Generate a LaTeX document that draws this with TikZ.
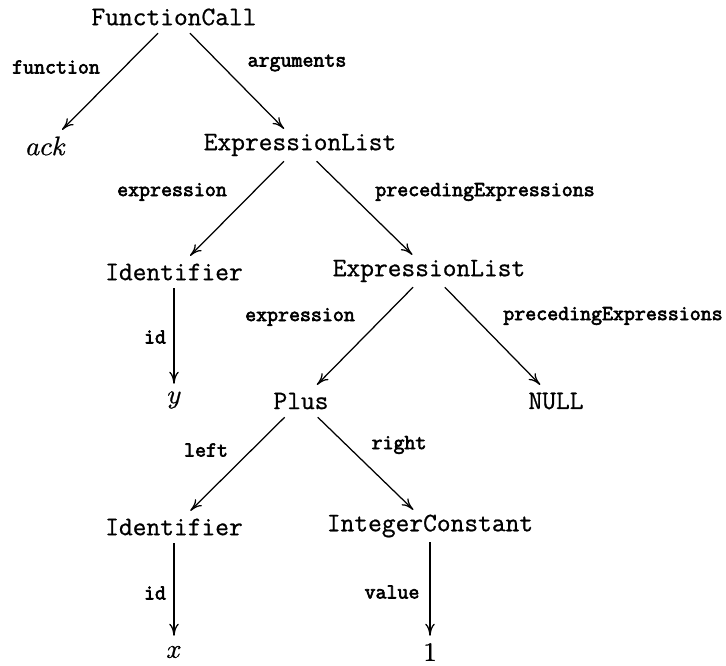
\documentclass[tikz,border=0pt]{standalone}
\usepackage{fontspec}
\usetikzlibrary{arrows.meta}
\newfontfamily\treefont[FakeBold=0.8]{Latin Modern Mono}
\newfontfamily\edgefont[FakeBold=3]{Latin Modern Mono}
\newfontfamily\leaffont[FakeBold=0.8]{Latin Modern Math}

\tikzset{
  tnode/.style={font=\fontsize{26.7}{30}\treefont, inner sep=0pt, minimum height=32pt},
  mnode/.style={font=\fontsize{26.7}{30}\leaffont, inner sep=0pt, minimum height=32pt},
  lbl/.style={font=\fontsize{21.3}{24}\edgefont, inner sep=0pt},
  link/.style={-{Computer Modern Rightarrow[length=12pt,width=9.5pt]}, line width=1.25pt},
}

\begin{document}
\begin{tikzpicture}[x=1pt, y=-1pt]
  \useasboundingbox (0,0) rectangle (726,666);

  % tree nodes
  \node[tnode] (fc)   at (174,17)  {FunctionCall};
  \node[mnode] (ack)  at (46,146)  {𝑎𝑐𝑘};
  \node[tnode] (el1)  at (300,145) {ExpressionList};
  \node[tnode] (id1)  at (174,272) {Identifier};
  \node[tnode] (el2)  at (429,271) {ExpressionList};
  \node[mnode] (yv)   at (174,400) {𝑦};
  \node[tnode] (plus) at (301,401) {Plus};
  \node[tnode] (null) at (556,401) {NULL};
  \node[tnode] (id2)  at (174,527) {Identifier};
  \node[tnode] (ic)   at (430,526) {IntegerConstant};
  \node[mnode] (xv)   at (174,652) {𝑥};
  \node[mnode] (one)  at (430,652) {1};

  % edges
  \draw[link] (fc)   -- (ack);
  \draw[link] (fc)   -- (el1);
  \draw[link] (el1)  -- (id1);
  \draw[link] (el1)  -- (el2);
  \draw[link] (id1)  -- (yv);
  \draw[link] (el2)  -- (plus);
  \draw[link] (el2)  -- (null);
  \draw[link] (plus) -- (id2);
  \draw[link] (plus) -- (ic);
  \draw[link] (id2)  -- (xv);
  \draw[link] (ic)   -- (one);

  % edge labels
  \node[lbl] (l-function) at (56,67)   {function};
  \node[lbl] (l-args)     at (297,63)  {arguments};
  \node[lbl] (l-expr1)    at (172,192) {expression};
  \node[lbl] (l-prec1)    at (485,192) {precedingExpressions};
  \node[lbl] (l-id1)      at (155,337) {id};
  \node[lbl] (l-expr2)    at (300,317) {expression};
  \node[lbl] (l-prec2)    at (613,316) {precedingExpressions};
  \node[lbl] (l-left)     at (206,450) {left};
  \node[lbl] (l-right)    at (399,445) {right};
  \node[lbl] (l-id2)      at (155,593) {id};
  \node[lbl] (l-value)    at (392,592) {value};
\end{tikzpicture}
\end{document}
